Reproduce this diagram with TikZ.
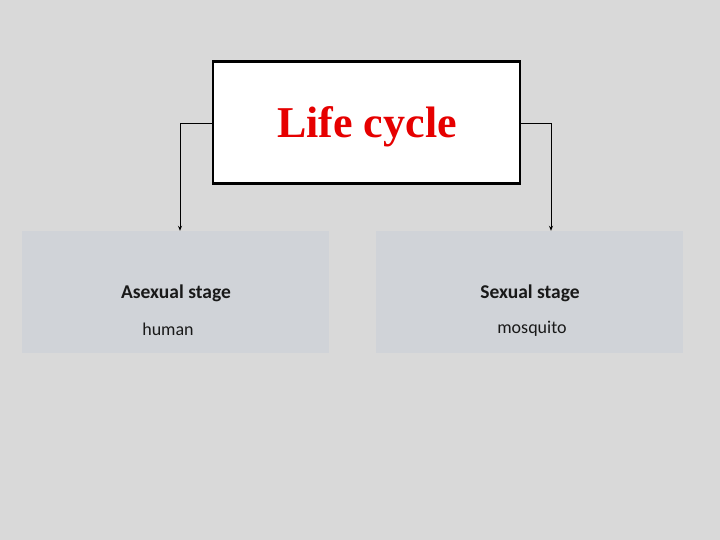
\documentclass[tikz,border=0pt]{standalone}
\usepackage{fontspec}
\setmainfont{Liberation Serif}
\setsansfont{Carlito}
\usetikzlibrary{arrows.meta}

\definecolor{slidebg}{HTML}{D9D9D9}
\definecolor{stagebg}{HTML}{D0D3D8}
\definecolor{titlered}{HTML}{E60000}

\begin{document}
\begin{tikzpicture}[x=1pt,y=-1pt,
  stagebox/.style={fill=stagebg, minimum width=307pt, minimum height=122pt, inner sep=0pt},
  stagelbl/.style={font=\sffamily\bfseries\fontsize{19.5}{22}\selectfont, text=black!90},
  hostlbl/.style={font=\sffamily\fontsize{18}{20}\selectfont, text=black!90},
  link/.style={-{Stealth[length=5pt,width=4pt]}, line width=0.9pt}]

\fill [slidebg] (0,0) rectangle (720,540);
\useasboundingbox (0,0) rectangle (720,540);

\node [draw, line width=2.2pt, fill=white, minimum width=307pt, minimum height=122pt] (life) at (366.5,122.5) {};
\node [font=\bfseries\fontsize{44}{48}\selectfont, text=titlered] (lifeLbl) at (367,127) {Life cycle};

\node [stagebox] (asexual) at (175.5,292) {};
\node [stagebox] (sexual) at (529.5,292) {};

\node [stagelbl] (asexualLbl) at (176,293) {Asexual stage};
\node [hostlbl] (humanLbl) at (168,329) {human};
\node [stagelbl] (sexualLbl) at (530,293) {Sexual stage};
\node [hostlbl] (mosquitoLbl) at (532,329) {mosquito};

\coordinate (lturn) at (180,123.5);
\coordinate (rturn) at (551,123.5);

\draw 
[link] 
(life.west |- lturn)--(lturn)--(lturn |- asexual.north);
\draw 
[link] 
(life.east |- rturn)--(rturn)--(rturn |- sexual.north);

\end{tikzpicture}
\end{document}
